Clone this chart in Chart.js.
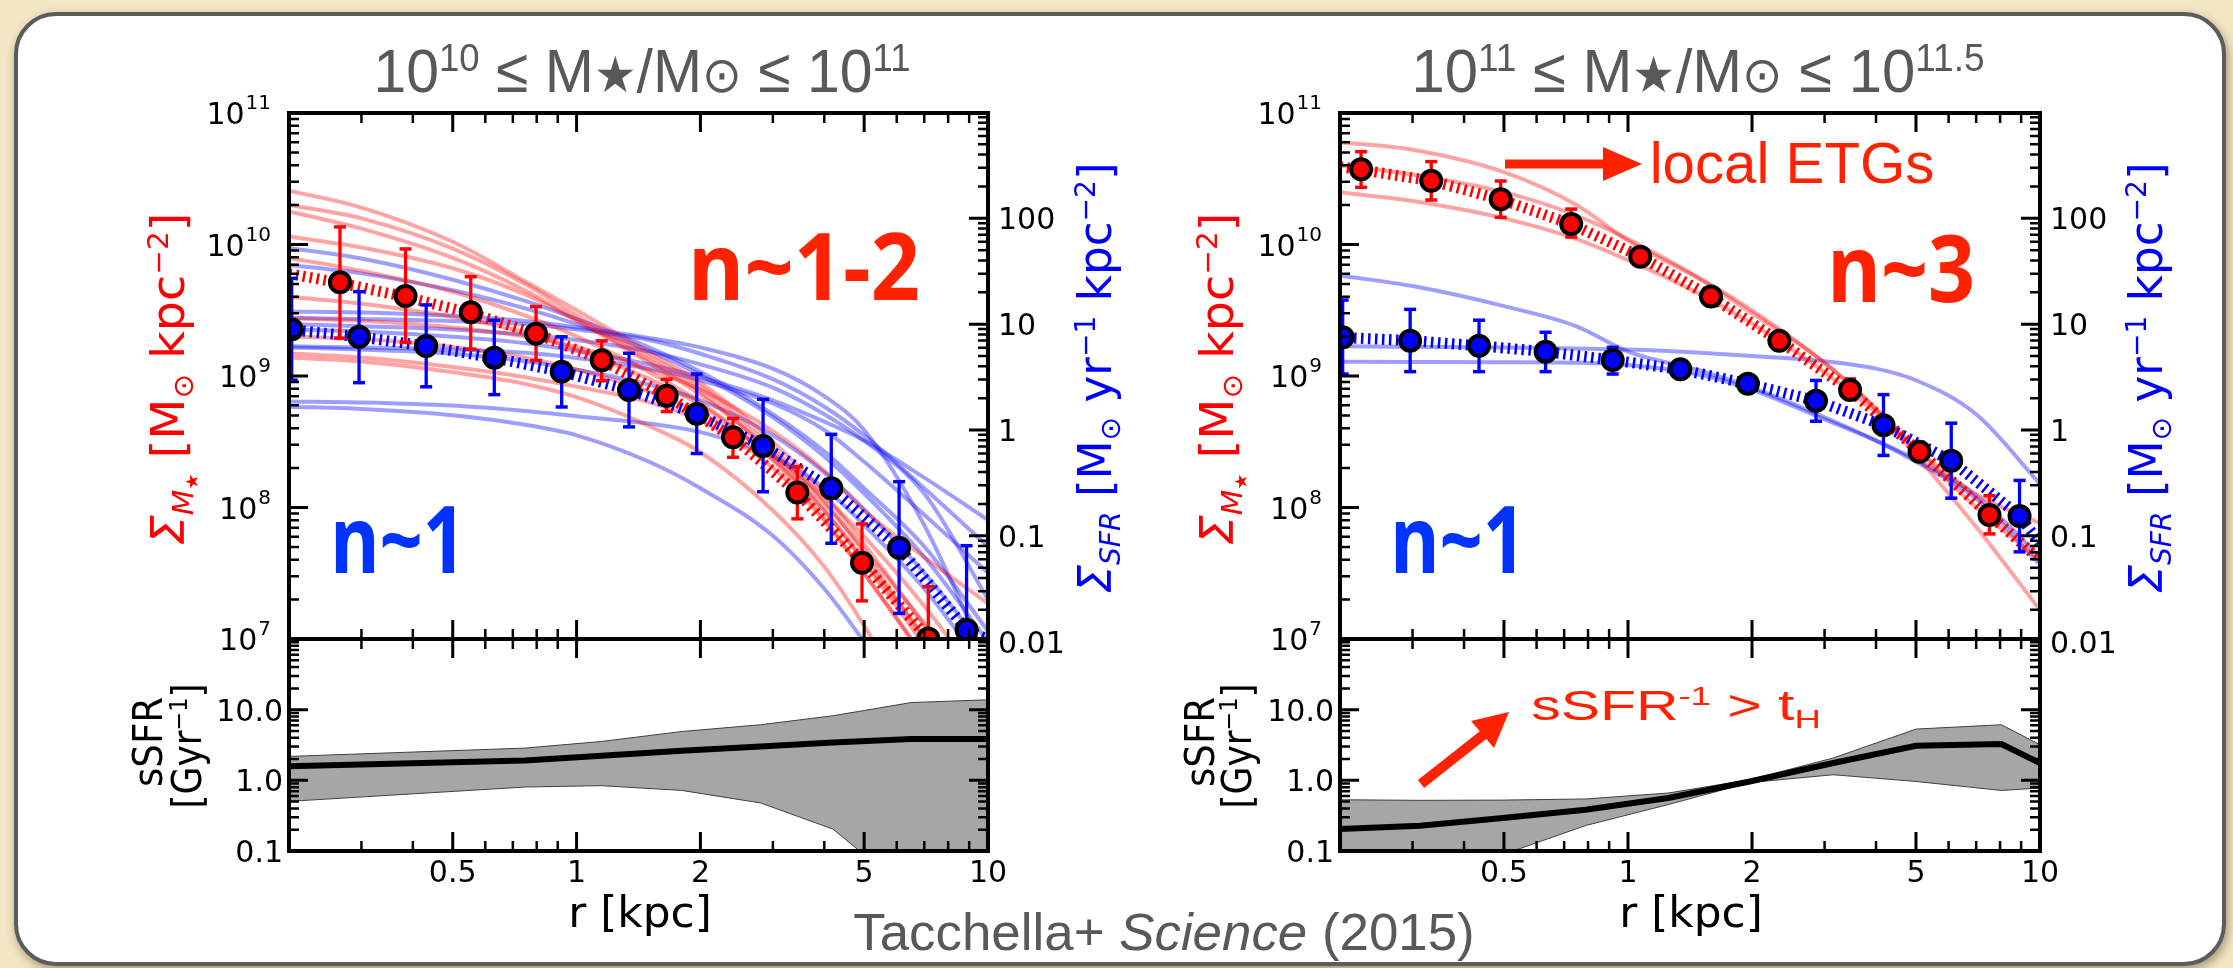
<!DOCTYPE html>
<html>
<head>
<meta charset="utf-8">
<title>Stellar mass and SFR surface density profiles</title>
<script src="https://cdn.jsdelivr.net/npm/chart.js@4.4.1/dist/chart.umd.min.js"></script>
<style>
  html, body { margin: 0; padding: 0; }
  body { width: 2233px; height: 968px; position: relative; overflow: hidden;
         background: #f3e6c4; font-family: "Liberation Sans", Arial, sans-serif; }
  #card { position: absolute; left: 14px; top: 12px; width: 2204px; height: 946px;
          border: 4px solid #5c5c5c; border-radius: 42px; background: #fff;
          box-shadow: 2px 4px 10px rgba(70, 50, 20, 0.45); }
  canvas { position: absolute; }
  svg { position: absolute; left: 0; top: 0; }
  .t { position: absolute; left: 0; top: 0; white-space: nowrap; line-height: 1; }
  .t sup, .t sub { font-size: 0.62em; line-height: 0; position: relative; vertical-align: baseline; }
  .t sup { top: -0.55em; }
  .t sub { top: 0.3em; }
  .dv { font-family: "DejaVu Sans", sans-serif; }
  .gray { color: #595959; }
  .big { font-family: "Open Sans", sans-serif; font-weight: 700; }
  .star { font-size: 0.8em; }
</style>
</head>
<body>
<div id="card"></div>

<canvas id="topL" width="1116" height="660" style="left:0;top:0"></canvas>
<canvas id="botL" width="1116" height="300" style="left:0;top:600px"></canvas>
<canvas id="topR" width="1117" height="660" style="left:1116px;top:0"></canvas>
<canvas id="botR" width="1117" height="300" style="left:1116px;top:600px"></canvas>

<svg width="2233" height="968">
  <line x1="1505" y1="164" x2="1608" y2="164" stroke="#ff2200" stroke-width="9"/>
  <polygon points="1603,147 1642,164 1603,181" fill="#ff2200"/>
  <line x1="1421" y1="784" x2="1492" y2="728" stroke="#ff2200" stroke-width="10"/>
  <polygon points="1509,712 1471,721 1494,748" fill="#ff2200"/>
</svg>

<div class="t gray" id="titleL" style="font-size:62px">10<sup>10</sup> ≤ M<span class="star">★</span>/M<span class="star">⊙</span> ≤ 10<sup>11</sup></div>
<div class="t gray" id="titleR" style="font-size:62px">10<sup>11</sup> ≤ M<span class="star">★</span>/M<span class="star">⊙</span> ≤ 10<sup>11.5</sup></div>
<div class="t dv" id="xlabL" style="font-size:42px">r [kpc]</div>
<div class="t dv" id="xlabR" style="font-size:42px">r [kpc]</div>
<div class="t dv" id="massLabL" style="font-size:46px;color:#ff0000"><i>Σ<sub>M<sub>★</sub></sub></i> [M<sub>⊙</sub> kpc<sup>−2</sup>]</div>
<div class="t dv" id="massLabR" style="font-size:46px;color:#ff0000"><i>Σ<sub>M<sub>★</sub></sub></i> [M<sub>⊙</sub> kpc<sup>−2</sup>]</div>
<div class="t dv" id="sfrLabL" style="font-size:46px;color:#0000ff"><i>Σ<sub>SFR</sub></i> [M<sub>⊙</sub> yr<sup>−1</sup> kpc<sup>−2</sup>]</div>
<div class="t dv" id="sfrLabR" style="font-size:46px;color:#0000ff"><i>Σ<sub>SFR</sub></i> [M<sub>⊙</sub> yr<sup>−1</sup> kpc<sup>−2</sup>]</div>
<div class="t dv" id="ssfrL1" style="font-size:40px">sSFR</div>
<div class="t dv" id="ssfrL2" style="font-size:40px">[Gyr<sup>−1</sup>]</div>
<div class="t dv" id="ssfrR1" style="font-size:40px">sSFR</div>
<div class="t dv" id="ssfrR2" style="font-size:40px">[Gyr<sup>−1</sup>]</div>
<div class="t big" id="nL12" style="font-size:94px;color:#ff2200">n~1-2</div>
<div class="t big" id="nR3" style="font-size:94px;color:#ff2200">n~3</div>
<div class="t big" id="nL1" style="font-size:94px;color:#0033ff">n~1</div>
<div class="t big" id="nR1" style="font-size:94px;color:#0033ff">n~1</div>
<div class="t" id="etg" style="font-size:57px;color:#ff2200">local ETGs</div>
<div class="t" id="tH" style="font-size:43px;color:#ff2200">sSFR<sup>-1</sup> &gt; t<sub>H</sub></div>
<div class="t gray" id="credit" style="font-size:52px">Tacchella+ <i>Science</i> (2015)</div>

<script>
// axis ticks
const xTickVals = [0.5, 1, 2, 5, 10];
const xTickLabels = ['0.5', '1', '2', '5', '10'];
const xMinorVals = [0.3, 0.4, 0.6, 0.7, 0.8, 0.9, 3, 4, 6, 7, 8, 9];
const massTickVals = [1e7, 1e8, 1e9, 1e10, 1e11];
const massTickExp = ['7', '8', '9', '10', '11'];
const sfrTickVals = [0.01, 0.1, 1, 10, 100];
const sfrTickLabels = ['0.01', '0.1', '1', '10', '100'];
const ssfrTickVals = [0.1, 1, 10];
const ssfrTickLabels = ['0.1', '1.0', '10.0'];

// radii (kpc) where the single-galaxy fits were read
const fitR = [0.2, 0.3, 0.5, 0.75, 1, 1.5, 2, 3, 4, 5, 7, 10];

// ---- left: 1e10 <= M* <= 1e11 ----
const massR_L = [0.266, 0.384, 0.553, 0.797, 1.151, 1.656, 2.40, 3.44, 4.94, 7.16];
const mass_L = [5.16e9, 4.06e9, 3.05e9, 2.10e9, 1.32e9, 7.08e8, 3.42e8, 1.30e8, 3.8e7, 1.01e7];
const massLo_L = [1.94e9, 1.80e9, 1.60e9, 1.31e9, 9.2e8, 5.36e8, 2.41e8, 8.2e7, 1.95e7, 4e6];
const massHi_L = [1.36e10, 9.25e9, 5.69e9, 3.37e9, 1.85e9, 9.44e8, 4.76e8, 2.04e8, 7.5e7, 2.5e7];
const sfrR_L = [0.203, 0.296, 0.431, 0.631, 0.920, 1.341, 1.959, 2.84, 4.16, 6.08, 8.87];
const sfr_L = [8.93, 7.60, 6.22, 4.82, 3.56, 2.39, 1.42, 0.706, 0.281, 0.0773, 0.0129];
const sfrLo_L = [2.96, 2.80, 2.56, 2.16, 1.65, 1.07, 0.60, 0.261, 0.0851, 0.0185, 0.003];
const sfrHi_L = [27.1, 20.3, 15.2, 10.9, 7.60, 5.31, 3.38, 1.95, 0.910, 0.325, 0.0807];
const massMedR_L = [0.2, 0.266, 0.384, 0.553, 0.797, 1.151, 1.656, 2.40, 3.44, 4.94, 7.16, 10];
const massMed_L = [6.0e9, 5.1e9, 4.0e9, 3.0e9, 2.1e9, 1.32e9, 7.1e8, 3.4e8, 1.3e8, 3.9e7, 1.0e7, 2.6e6];
const sfrMedR_L = [0.2, 0.296, 0.431, 0.631, 0.92, 1.341, 1.959, 2.84, 4.16, 6.08, 8.87, 10];
const sfrMed_L = [8.9, 7.6, 6.2, 4.8, 3.56, 2.39, 1.42, 0.71, 0.28, 0.077, 0.013, 0.0105];
const massFits_L = [
  [2.57e10, 1.91e10, 1.05e10, 5.25e9, 3.16e9, 1.51e9, 8.9e8, 3.16e8, 1.26e8, 5.25e7, 1.26e7, 2.5e6],
  [2.0e10, 1.58e10, 9.3e9, 5.0e9, 2.88e9, 1.41e9, 8.3e8, 2.82e8, 1.12e8, 4.5e7, 1.0e7, 2.0e6],
  [1.78e10, 1.32e10, 7.9e9, 4.47e9, 2.69e9, 1.32e9, 7.6e8, 2.5e8, 9.5e7, 3.8e7, 8.9e6, 1.6e6],
  [1.15e10, 9.5e9, 6.6e9, 4.17e9, 2.63e9, 1.26e9, 7.2e8, 2.63e8, 1.07e8, 4.8e7, 1.32e7, 3.2e6],
  [7.9e9, 6.3e9, 4.37e9, 2.88e9, 2.0e9, 1.07e9, 6.3e8, 2.34e8, 9.5e7, 4.0e7, 1.05e7, 2.5e6],
  [4.0e9, 3.55e9, 2.82e9, 2.14e9, 1.58e9, 9.5e8, 6.0e8, 2.29e8, 8.3e7, 3.16e7, 7.1e6, 1.26e6],
  [2.75e9, 2.63e9, 2.34e9, 2.0e9, 1.66e9, 1.12e9, 7.9e8, 3.8e8, 1.9e8, 9.5e7, 4.2e7, 1.86e7],
  [2.0e9, 1.91e9, 1.66e9, 1.38e9, 1.12e9, 7.6e8, 5.25e8, 2.5e8, 1.2e8, 6.0e7, 1.78e7, 4.0e6],
  [1.48e9, 1.38e9, 1.17e9, 9.8e8, 8.3e8, 6.3e8, 4.57e8, 2.0e8, 7.9e7, 3.16e7, 7.1e6, 1.0e6],
  [1.38e9, 1.29e9, 1.07e9, 8.7e8, 6.9e8, 4.17e8, 2.63e8, 9.5e7, 3.55e7, 1.26e7, 2.0e6, 3.2e5]
];
const sfrFits_L = [
  [52.5, 41.7, 26.3, 16.6, 11.2, 6.03, 3.55, 1.41, 0.63, 0.282, 0.0794, 0.0126],
  [36.3, 30.2, 20.9, 14.1, 10.0, 5.62, 3.31, 1.32, 0.562, 0.251, 0.0631, 0.01],
  [13.2, 12.9, 12.0, 10.7, 9.33, 7.41, 6.03, 3.80, 2.09, 1.0, 0.126, 0.0063],
  [11.5, 11.2, 10.7, 10.0, 8.91, 7.08, 5.25, 3.02, 1.66, 0.891, 0.282, 0.0794],
  [10.0, 9.55, 8.91, 7.94, 7.08, 5.50, 4.17, 2.51, 1.41, 0.794, 0.251, 0.0251],
  [8.91, 8.51, 7.59, 6.61, 5.62, 4.17, 3.16, 1.91, 1.20, 0.794, 0.355, 0.141],
  [6.17, 6.03, 5.75, 5.37, 4.79, 3.80, 2.95, 1.78, 1.0, 0.501, 0.158, 0.0447],
  [6.03, 5.75, 5.25, 4.47, 3.72, 2.69, 1.91, 0.891, 0.398, 0.178, 0.0447, 0.0079],
  [1.86, 1.82, 1.70, 1.51, 1.35, 1.15, 0.955, 0.562, 0.282, 0.126, 0.0316, 0.005],
  [1.66, 1.58, 1.38, 1.12, 0.891, 0.501, 0.282, 0.1, 0.0316, 0.01, 0.0016, 0.00025]
];
const ssfrR_L = [0.2, 0.75, 1.15, 1.8, 2.8, 4.2, 6.5, 10];
const ssfr_L = [1.58, 1.91, 2.23, 2.62, 3.02, 3.44, 3.85, 3.85];
const ssfrHi_L = [2.18, 2.86, 3.55, 4.90, 6.12, 8.20, 12.6, 13.8];
const ssfrLo_L = [0.504, 0.804, 0.84, 0.72, 0.479, 0.204, 0.025, 0.016];

// ---- right: 1e11 <= M* <= 1e11.5 ----
const massR_R = [0.225, 0.333, 0.491, 0.728, 1.071, 1.59, 2.33, 3.46, 5.10, 7.54];
const mass_R = [3.73e10, 3.05e10, 2.21e10, 1.43e10, 8.07e9, 4.03e9, 1.85e9, 7.83e8, 2.65e8, 8.77e7];
const massLo_R = [2.72e10, 2.18e10, 1.61e10, 1.14e10, 7.2e9, 3.7e9, 1.7e9, 7.1e8, 2.4e8, 6.3e7];
const massHi_R = [5.08e10, 4.27e10, 3.04e10, 1.86e10, 8.9e9, 4.4e9, 2.0e9, 9.5e8, 2.95e8, 1.23e8];
const sfrR_R = [0.203, 0.296, 0.435, 0.631, 0.918, 1.34, 1.954, 2.86, 4.17, 6.09, 8.92];
const sfr_R = [7.52, 6.98, 6.25, 5.50, 4.58, 3.74, 2.73, 1.89, 1.11, 0.513, 0.154];
const sfrLo_R = [3.38, 3.56, 3.56, 3.56, 3.38, 3.16, 2.45, 1.21, 0.575, 0.227, 0.0706];
const sfrHi_R = [16.9, 13.8, 10.9, 8.38, 6.04, 4.37, 3.02, 2.94, 2.16, 1.16, 0.334];
const massMedR_R = [0.2, 0.225, 0.333, 0.491, 0.728, 1.071, 1.59, 2.33, 3.46, 5.10, 7.54, 10];
const massMed_R = [3.9e10, 3.7e10, 3.05e10, 2.2e10, 1.43e10, 8.1e9, 4.0e9, 1.85e9, 7.8e8, 2.65e8, 8.8e7, 4.0e7];
const sfrMedR_R = [0.2, 0.296, 0.435, 0.631, 0.918, 1.34, 1.954, 2.86, 4.17, 6.09, 8.92, 10];
const sfrMed_R = [7.5, 7.0, 6.25, 5.5, 4.58, 3.74, 2.73, 1.89, 1.11, 0.51, 0.154, 0.085];
const massFits_R = [
  [6.0e10, 5.25e10, 3.55e10, 2.0e10, 1.07e10, 5.4e9, 3.0e9, 1.26e9, 5.6e8, 2.5e8, 7.1e7, 1.66e7],
  [4.0e10, 3.4e10, 2.5e10, 1.66e10, 1.1e10, 5.5e9, 3.16e9, 1.26e9, 5.6e8, 2.8e8, 1.0e8, 4.0e7],
  [2.5e10, 2.14e10, 1.58e10, 1.1e10, 7.6e9, 4.17e9, 2.5e9, 1.07e9, 5.25e8, 2.8e8, 1.26e8, 7.6e7]
];
const sfrFits_R = [
  [28.8, 22.9, 14.8, 9.55, 5.5, 3.63, 2.51, 1.32, 0.794, 0.501, 0.224, 0.0537],
  [6.17, 6.10, 6.03, 5.89, 5.75, 5.37, 5.01, 4.47, 3.80, 2.95, 1.41, 0.309],
  [4.42, 4.40, 4.37, 4.32, 4.12, 3.31, 2.40, 1.26, 0.794, 0.525, 0.24, 0.063]
];
const ssfrR_R = [0.2, 0.313, 0.497, 0.789, 1.252, 1.975, 3.15, 5.0, 8.06, 10];
const ssfr_R = [0.205, 0.228, 0.293, 0.384, 0.562, 0.964, 1.76, 3.08, 3.26, 1.76];
const ssfrHi_R = [0.531, 0.521, 0.525, 0.545, 0.661, 1.02, 2.07, 5.31, 6.12, 3.19];
const ssfrLo_R = [0.0112, 0.0316, 0.0891, 0.229, 0.454, 0.93, 1.20, 0.964, 0.719, 0.778];

function pts(xs, ys) { return xs.map((x, i) => ({ x: x, y: ys[i] })); }

// error bars as broken line segments: lo, hi, gap
function errPts(xs, lo, hi) {
  const out = [];
  xs.forEach((x, i) => out.push({ x: x, y: lo[i] }, { x: x, y: hi[i] }, { x: x, y: null }));
  return out;
}

function fitLine(ys, color, axis) {
  return { data: pts(fitR, ys), yAxisID: axis, borderColor: color, borderWidth: 4, pointRadius: 0,
           cubicInterpolationMode: 'monotone', clip: 0, order: 5 };
}
function medianBand(xs, ys, color, axis) {
  return { data: pts(xs, ys), yAxisID: axis, borderColor: color, borderWidth: 11,
           borderDash: [2.5, 4.5], pointRadius: 0, clip: 0, order: 4 };
}
function errorBars(xs, lo, hi, color, axis, order) {
  return { data: errPts(xs, lo, hi), yAxisID: axis, borderColor: color, borderWidth: 3.3,
           pointStyle: 'line', pointRadius: 6, pointBorderWidth: 3.5, pointBorderColor: color,
           spanGaps: false, clip: 0, order: order };
}
function markers(xs, ys, color, axis, order) {
  return { data: pts(xs, ys), yAxisID: axis, showLine: false, pointRadius: 10, pointBorderWidth: 4,
           pointBackgroundColor: color, pointBorderColor: '#000', clip: 0, order: order };
}

function logTicks(scale) {
  const major = [], minor = [];
  const lo = Math.floor(Math.log10(scale.min) - 1e-9), hi = Math.ceil(Math.log10(scale.max) + 1e-9);
  for (let e = lo; e <= hi; e++) {
    const d = Math.pow(10, e);
    if (d >= scale.min * 0.999 && d <= scale.max * 1.001) major.push(d);
    for (let m = 2; m <= 9; m++) {
      const v = m * d;
      if (v > scale.min && v < scale.max) minor.push(v);
    }
  }
  return { major: major, minor: minor };
}

// matplotlib-like frame: inward ticks on every side, thick spines, tick labels
function framePlugin(o) {
  return {
    id: 'frame',
    afterDraw(chart) {
      const ctx = chart.ctx, a = chart.chartArea, sx = chart.scales.x;
      ctx.save();
      ctx.strokeStyle = '#000';
      [[xTickVals, 19, 3], [xMinorVals, 10, 2.5]].forEach(([vals, len, lw]) => {
        ctx.lineWidth = lw;
        ctx.beginPath();
        vals.forEach(v => {
          const p = sx.getPixelForValue(v);
          ctx.moveTo(p, a.top); ctx.lineTo(p, a.top + len);
          ctx.moveTo(p, a.bottom); ctx.lineTo(p, a.bottom - len);
        });
        ctx.stroke();
      });
      const side = (scale, x, dir) => {
        const t = logTicks(scale);
        [[t.major, 19, 3], [t.minor, 10, 2.5]].forEach(([vals, len, lw]) => {
          ctx.lineWidth = lw;
          ctx.beginPath();
          vals.forEach(v => {
            const y = scale.getPixelForValue(v);
            ctx.moveTo(x, y); ctx.lineTo(x + dir * len, y);
          });
          ctx.stroke();
        });
      };
      side(chart.scales[o.left], a.left, 1);
      side(chart.scales[o.right], a.right, -1);
      ctx.lineWidth = 4;
      ctx.strokeRect(a.left, a.top, a.right - a.left, a.bottom - a.top);
      ctx.fillStyle = '#000';
      ctx.textBaseline = 'alphabetic';
      o.labels(ctx, a, chart.scales);
      ctx.restore();
    }
  };
}

function profileLabels(ctx, a, sc) {
  massTickVals.forEach((v, i) => {
    const y = sc.y.getPixelForValue(v), xr = a.left - 18;
    ctx.textAlign = 'right';
    ctx.font = '20px "DejaVu Sans"';
    const w = ctx.measureText(massTickExp[i]).width;
    ctx.fillText(massTickExp[i], xr, y - 4);
    ctx.font = '30px "DejaVu Sans"';
    ctx.fillText('10', xr - w - 1, y + 11);
  });
  ctx.textAlign = 'left';
  ctx.font = '30px "DejaVu Sans"';
  sfrTickVals.forEach((v, i) => ctx.fillText(sfrTickLabels[i], a.right + 10, sc.y2.getPixelForValue(v) + 11));
}

function ssfrLabels(ctx, a, sc) {
  ctx.font = '30px "DejaVu Sans"';
  ctx.textAlign = 'right';
  ssfrTickVals.forEach((v, i) => ctx.fillText(ssfrTickLabels[i], a.left - 6, sc.y.getPixelForValue(v) + 11));
  ctx.textAlign = 'center';
  xTickVals.forEach((v, i) => ctx.fillText(xTickLabels[i], sc.x.getPixelForValue(v), a.bottom + 31));
}

function baseOptions(pad) {
  return {
    responsive: false, animation: false, devicePixelRatio: 1, events: [],
    layout: { padding: pad },
    plugins: { legend: { display: false }, tooltip: { enabled: false },
               filler: { drawTime: 'beforeDatasetsDraw' } },
    elements: { line: { capBezierPoints: false } }
  };
}

function profilePanel(id, padL, padR, p) {
  const sets = [];
  p.massFits.forEach(f => sets.push(fitLine(f, 'rgba(255,0,0,0.36)', 'y')));
  p.sfrFits.forEach(f => sets.push(fitLine(f, 'rgba(0,0,255,0.38)', 'y2')));
  sets.push(medianBand(p.massMedR, p.massMed, '#ff0000', 'y'));
  sets.push(medianBand(p.sfrMedR, p.sfrMed, '#0000ff', 'y2'));
  sets.push(errorBars(p.massR, p.massLo, p.massHi, '#ff0000', 'y', 3));
  sets.push(errorBars(p.sfrR, p.sfrLo, p.sfrHi, '#0000ff', 'y2', 2));
  sets.push(markers(p.massR, p.mass, '#ff0000', 'y', 1));
  sets.push(markers(p.sfrR, p.sfr, '#0000ff', 'y2', 0));
  const options = baseOptions({ left: padL, top: 113, right: padR, bottom: 21 });
  options.scales = {
    x: { type: 'logarithmic', min: 0.2, max: 10, display: false },
    y: { type: 'logarithmic', min: 1e7, max: 1e11, display: false },
    y2: { type: 'logarithmic', position: 'right', min: 0.0106, max: 989, display: false }
  };
  new Chart(document.getElementById(id), {
    type: 'line',
    data: { datasets: sets },
    options: options,
    plugins: [framePlugin({ left: 'y', right: 'y2', labels: profileLabels })]
  });
}

function ssfrPanel(id, padL, padR, rs, med, lo, hi) {
  const options = baseOptions({ left: padL, top: 39, right: padR, bottom: 49 });
  options.scales = {
    x: { type: 'logarithmic', min: 0.2, max: 10, display: false },
    y: { type: 'logarithmic', min: 0.1, max: 100, display: false }
  };
  new Chart(document.getElementById(id), {
    type: 'line',
    data: { datasets: [
      { data: pts(rs, hi), borderColor: '#404040', borderWidth: 1, backgroundColor: '#a6a6a6',
        fill: '+1', pointRadius: 0, clip: 0, order: 2 },
      { data: pts(rs, lo), borderColor: '#404040', borderWidth: 1, fill: false,
        pointRadius: 0, clip: 0, order: 2 },
      { data: pts(rs, med), borderColor: '#000', borderWidth: 6, pointRadius: 0, clip: 0, order: 0 }
    ] },
    options: options,
    plugins: [framePlugin({ left: 'y', right: 'y', labels: ssfrLabels })]
  });
}

profilePanel('topL', 289, 128, {
  massR: massR_L, mass: mass_L, massLo: massLo_L, massHi: massHi_L,
  sfrR: sfrR_L, sfr: sfr_L, sfrLo: sfrLo_L, sfrHi: sfrHi_L,
  massMedR: massMedR_L, massMed: massMed_L, sfrMedR: sfrMedR_L, sfrMed: sfrMed_L,
  massFits: massFits_L, sfrFits: sfrFits_L
});
profilePanel('topR', 224, 193, {
  massR: massR_R, mass: mass_R, massLo: massLo_R, massHi: massHi_R,
  sfrR: sfrR_R, sfr: sfr_R, sfrLo: sfrLo_R, sfrHi: sfrHi_R,
  massMedR: massMedR_R, massMed: massMed_R, sfrMedR: sfrMedR_R, sfrMed: sfrMed_R,
  massFits: massFits_R, sfrFits: sfrFits_R
});
ssfrPanel('botL', 289, 128, ssfrR_L, ssfr_L, ssfrLo_L, ssfrHi_L);
ssfrPanel('botR', 224, 193, ssfrR_R, ssfr_R, ssfrLo_R, ssfrHi_R);

// text placement: id, centre x, centre y, width along the text, rotation
const textBoxes = [
  ['titleL', 642, 71, 537, 0],
  ['titleR', 1698, 71, 573, 0],
  ['xlabL', 640, 913, 143, 0],
  ['xlabR', 1691, 913, 143, 0],
  ['massLabL', 168, 379, 332, -90],
  ['sfrLabL', 1095, 378, 431, -90],
  ['massLabR', 1217, 379, 332, -90],
  ['sfrLabR', 2146, 378, 431, -90],
  ['ssfrL1', 148, 742, 90, -90],
  ['ssfrL2', 187, 746, 125, -90],
  ['ssfrR1', 1200, 742, 90, -90],
  ['ssfrR2', 1237, 746, 125, -90],
  ['nL12', 804, 264, 232, 0],
  ['nR3', 1901, 266, 148, 0],
  ['nL1', 398, 537, 136, 0],
  ['nR1', 1458, 537, 136, 0],
  ['etg', 1792, 163, 285, 0],
  ['tH', 1676, 705, 289, 0],
  ['credit', 1164, 932, 621, 0]
];

function placeTexts() {
  textBoxes.forEach(([id, cx, cy, w, rot]) => {
    const el = document.getElementById(id);
    const k = w / el.offsetWidth;
    el.style.left = cx + 'px';
    el.style.top = cy + 'px';
    el.style.transform = 'translate(-50%, -50%) rotate(' + rot + 'deg) scaleX(' + k.toFixed(4) + ')';
  });
}
placeTexts();
if (document.fonts) document.fonts.ready.then(placeTexts);
</script>
</body>
</html>
